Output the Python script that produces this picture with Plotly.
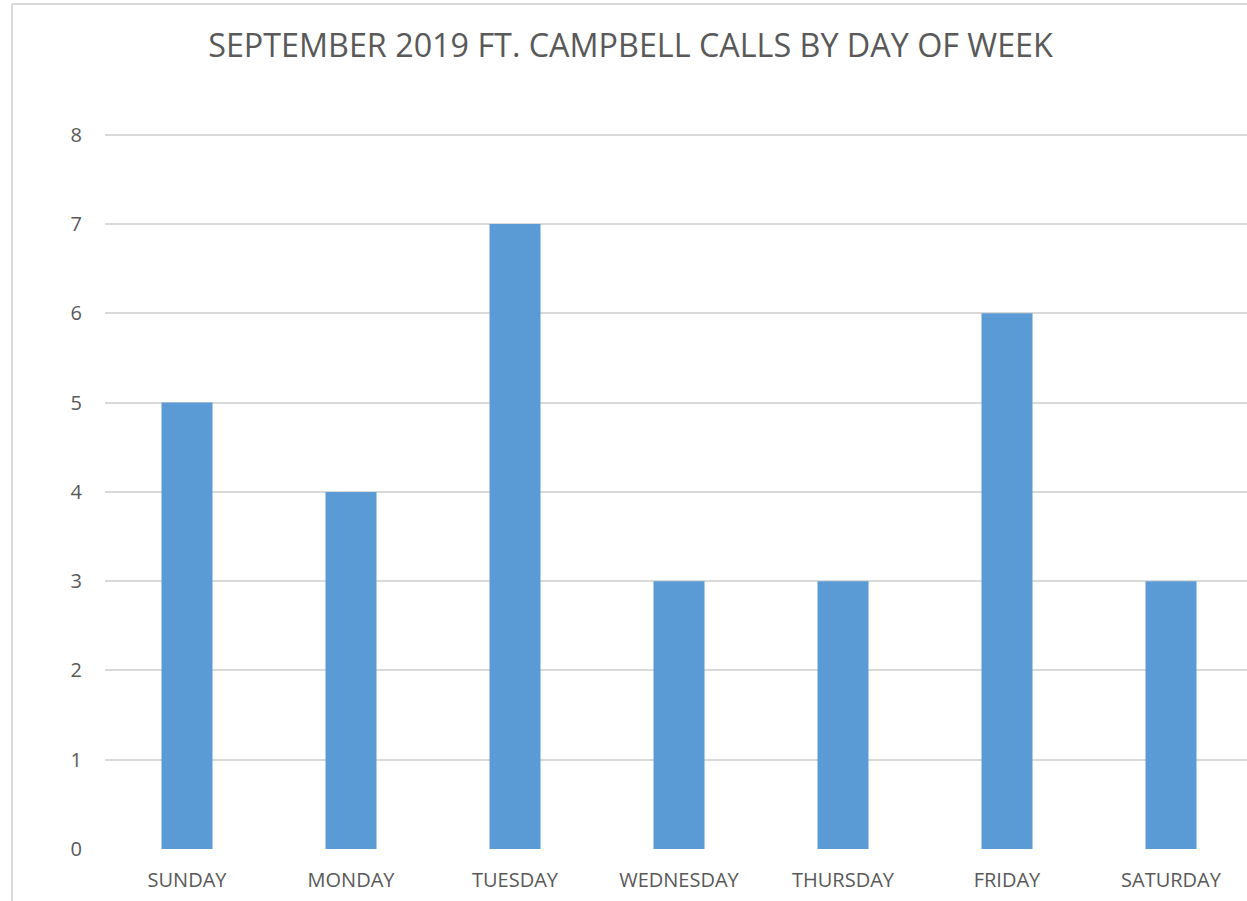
import plotly.graph_objects as go

days = ["SUNDAY", "MONDAY", "TUESDAY", "WEDNESDAY", "THURSDAY", "FRIDAY", "SATURDAY"]
calls = [5, 4, 7, 3, 3, 6, 3]
y_ticks = [0, 1, 2, 3, 4, 5, 6, 7, 8]
title_text = "SEPTEMBER 2019 FT. CAMPBELL CALLS BY DAY OF WEEK"

W, H = 1247, 901
y_top = 8.02
px_per_unit = (849 - 135) / 8.0
L = 105
T = int(round(135 - (y_top - 8) * px_per_unit))
B = H - 849
R = 0
cat_px = 164.0
plot_w = W - L - R
plot_h = H - T - B

fig = go.Figure(go.Bar(
    x=list(range(len(days))), y=calls,
    marker=dict(color="#5B9BD5", line=dict(width=0)),
    width=51 / cat_px,
    hoverinfo="x+y",
))

fig.update_layout(
    width=W, height=H,
    margin=dict(l=L, r=R, t=T, b=B, pad=0),
    paper_bgcolor="white", plot_bgcolor="white",
    font=dict(family="Open Sans", color="#595959"),
    title=dict(text=title_text, x=630.5 / W, xanchor="center", xref="container",
               y=1 - 46 / H, yanchor="middle", yref="container",
               font=dict(size=32.3, color="#595959", family="Open Sans")),
    showlegend=False,
    xaxis=dict(
        range=[-0.5, -0.5 + plot_w / cat_px],
        tickmode="array", tickvals=list(range(len(days))), ticktext=days,
        showgrid=False, zeroline=False, showline=False, ticks="",
        tickfont=dict(size=20, color="#595959"),
        ticklabelstandoff=17,
    ),
    yaxis=dict(
        range=[0, y_top], tickmode="array", tickvals=y_ticks,
        showgrid=True, gridcolor="#D9D9D9", gridwidth=1.5,
        zeroline=False, showline=False, ticks="",
        tickfont=dict(size=20, color="#595959"),
        ticklabelstandoff=22,
    ),
    shapes=[
        dict(type="line", xref="paper", yref="paper",
             x0=-(L - 12) / plot_w, x1=-(L - 12) / plot_w,
             y0=-B / plot_h, y1=1 + (T - 4) / plot_h,
             line=dict(color="#D9D9D9", width=2)),
        dict(type="line", xref="paper", yref="paper",
             x0=-(L - 12) / plot_w, x1=1.01,
             y0=1 + (T - 4) / plot_h, y1=1 + (T - 4) / plot_h,
             line=dict(color="#D9D9D9", width=2)),
    ],
)

fig.write_html("out.html",
               config={"displayModeBar": False},
               post_script="document.body.style.margin='0';document.body.style.overflow='hidden';")
